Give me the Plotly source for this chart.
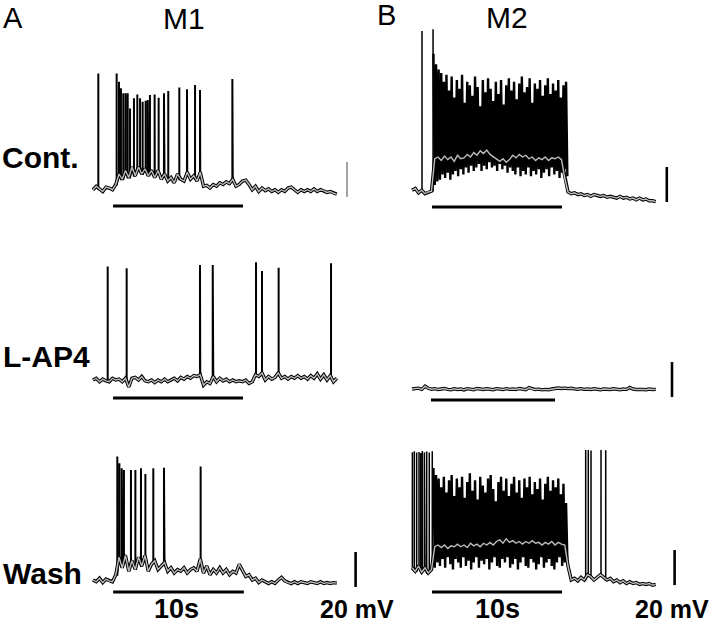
import numpy as np
import plotly.graph_objects as go

# ---------------- DATA (time in s, membrane potential in mV) ----------------
DT = 0.25          # sampling step of the filtered (grey) traces
DENSE_DT = 0.2     # step of the dense-firing envelope samples

# ---- M1, control
m1_cont_base = [-61, -59, -60.5, -62, -59.5, -60, -61,
                -58, -52, -55, -50, -54, -48, -53, -48, -52, -49, -53, -50, -54, -50, -55, -52, -56,
                -54, -57, -52, -55, -56, -51, -55, -53, -56, -51,
                -59, -58.5, -60, -58, -59, -57, -58, -56.5, -57.5, -55, -59, -58, -56, -55.5, -58,
                -61, -59, -62, -60, -61.5, -60.5, -62, -61, -62.5, -61, -62, -60, -59.5, -61, -62.5,
                -61, -62, -61, -62, -60.5, -62, -61, -61.5, -62.5, -62, -63, -63.5]
m1_cont_spike_t = [0.41, 1.82, 2.0, 2.15, 2.33, 2.51, 2.67, 2.85, 3.15, 3.41, 3.62, 3.82, 4.05,
                   4.21, 4.38, 4.74, 5.05, 5.46, 5.79, 6.64, 7.23, 7.85, 8.23, 10.72]
m1_cont_spike_mv = [5.5, 5.5, 0.7, -3.0, -5.9, -5.9, -5.9, -14.5, -8.7, -6.5, -8.7, -10.7, -10.1,
                    -9.7, -6.9, -6.5, -8.4, -5.9, -4.6, -2.5, -3.6, -1.1, -4.0, 2.3]

# ---- M1, L-AP4
m1_lap4_base = [-60, -59, -61, -59.5, -60.5, -61, -59, -60, -59.5, -61, -59, -64, -59, -58.5, -60,
                -58, -60.5, -61, -60, -61.5, -60, -61, -59.5, -61, -60, -59, -60.5, -58.5, -59.5,
                -58, -59, -57.5, -58, -57, -63, -61, -62, -58, -61, -59, -60.5, -59.5, -61, -60,
                -61, -60.5, -61, -60, -62, -61, -57, -58, -56, -60, -58, -59.5, -58.5, -56, -59,
                -58, -59.5, -58, -59, -57.5, -59, -58, -59.5, -57.5, -59, -56.5, -59.5, -57, -60,
                -57.5, -61, -59]
m1_lap4_spike_t = [1.13, 2.59, 8.23, 9.21, 12.54, 13.0, 14.28, 18.31]
m1_lap4_spike_mv = [4.8, 3.8, 5.7, 5.7, 7.3, 2.3, 4.2, 6.7]

# ---- M1, wash
m1_wash_base = [-60, -61, -59, -61.5, -59.5, -60.5, -61, -57, -47, -53, -46, -55, -49, -54, -47,
                -52, -46, -55, -51, -49, -54, -52, -50, -55, -53, -56, -54, -55, -53, -56, -54,
                -53, -55, -48, -56, -52, -57, -54, -56, -53, -56, -54, -57, -55, -56, -51, -55,
                -58, -57, -60, -59, -61.5, -60, -61, -62, -61, -62, -60, -58.5, -60.5, -61.5,
                -62, -61, -62, -61, -61.5, -62, -61, -61.5, -62, -61, -62, -61.5, -62, -61.5, -61.8]
m1_wash_spike_t = [1.87, 2.03, 2.21, 2.38, 2.92, 3.26, 3.69, 4.03, 4.64, 5.46, 8.28]
m1_wash_spike_mv = [10.5, 6.7, 3.8, 2.9, 2.9, 2.9, 3.8, 0.6, 3.8, 4.2, 4.8]

# ---- M2, control
m2_cont_base = [-59, -58, -60.5, -59, -61, -60, -59.5, -41, -40, -42, -39.5, -41.5, -40, -42.5,
                -39, -41, -40.5, -38.5, -40, -37.5, -39, -36.5, -38, -36, -38.5, -40, -41.5,
                -42.5, -41, -43, -41.5, -39, -40.5, -38.5, -40, -39, -41, -40, -42, -40.5, -41.5,
                -40, -42, -40.5, -41, -40, -41.5, -52, -60, -61, -60.5, -61.5, -61, -62, -61.5,
                -62.5, -61.5, -62, -62.5, -62, -63, -62.5, -63, -63.5, -62.5, -63.5, -63, -64,
                -63.5, -64.5, -63.5, -64.5, -64, -65, -65, -65.5]
m2_cont_spike_t = [0.77, 1.62]
m2_cont_spike_mv = [32, 33]
m2_cont_dense_start = 1.65
m2_cont_dense_peaks = [19, 13, 10, 8, 3, 7, -2, 6, -6, 4, -1, 7, -9, 3, 1, -5, 6, 0, -11, 4, -3,
                       5, -1, -8, 3, -4, 4, -10, 1, 5, -2, 3, -7, 2, 6, -3, 0, 5, -9, 2, -1, 4,
                       -5, 1, 5, -4, 2, -2, 4, -6, 1, 3]
m2_cont_dense_troughs = [-56, -54, -53, -50, -52, -49, -53, -50, -48, -51, -47, -50, -46, -49,
                         -45, -48, -46, -44, -48, -45, -47, -43, -46, -45, -48, -44, -47, -45,
                         -49, -46, -48, -50, -46, -51, -48, -50, -46, -51, -48, -50, -47, -52,
                         -49, -47, -51, -46, -50, -48, -52, -49, -47, -51]

# ---- M2, L-AP4
m2_lap4_base = [-60, -59.8, -59.5, -60.2, -58.4, -59.6, -60.1, -59.8, -60.3, -60, -59.7, -60.2,
                -60.4, -59.9, -60.3, -60, -60.5, -59.8, -60.2, -60.4, -59.7, -60.1, -60.3, -59.9,
                -60.2, -60.4, -59.8, -60.1, -60.3, -59.8, -60.2, -60, -60.3, -59.7, -60.1, -60.4,
                -59.2, -60, -60.3, -60.1, -60.5, -60.2, -60.4, -60, -59.6, -59.4, -59.7, -59.5,
                -59.8, -59.6, -59.9, -60.1, -59.8, -60.2, -60, -60.3, -59.9, -60.1, -60.4, -60,
                -60.2, -60.3, -59.9, -60.1, -60.4, -60, -60.2, -59.1, -60, -60.3, -60.1, -60.2,
                -60.4, -60, -60.3, -60.2]

# ---- M2, wash
m2_wash_base = [-53, -55, -52, -55.5, -53, -56, -54, -41, -40, -41.5, -40, -42, -40.5, -41,
                -39.5, -41, -40, -41.5, -39, -40.5, -39.5, -41, -39, -40, -38.5, -40, -38, -37,
                -39, -36.5, -38.5, -37.5, -39, -38, -39.5, -38, -39, -37.5, -39, -38.5, -40,
                -38.5, -39.5, -38, -40, -38.5, -39.5, -40, -52, -60, -59, -60.5, -58.5, -60,
                -57, -58, -60, -58.5, -57, -58.5, -60, -59, -61, -60, -61.5, -60.5, -62, -61,
                -62, -61.5, -62.5, -62, -62.5, -62, -63, -62.5]
m2_wash_spike_t = [0.03, 0.18, 0.36, 0.54, 0.67, 0.79, 0.95, 1.13, 1.33, 1.56,
                   13.36, 13.56, 13.77, 14.54, 14.9]
m2_wash_spike_mv = [13, 13.5, 12.8, 13.2, 12.6, 13.7, 13, 13.4, 12.9, 13.5,
                    14.3, 14.3, 14, 14.3, 14.1]
m2_wash_dense_start = 1.65
m2_wash_dense_peaks = [4, 0, -2, -7, -1, -10, -3, 0, -12, -2, -7, -1, -13, -4, 1, -9, -3, -14,
                       -1, -6, -10, -2, 0, -8, -15, -4, -1, -9, -2, -12, -5, -1, -10, -3, -13,
                       -2, -7, -1, -11, -4, -8, -2, -14, -5, -1, -9, -3, -7, -2, -11, -5, -16]
m2_wash_dense_troughs = [-53, -50, -52, -48, -53, -47, -51, -54, -48, -50, -53, -47, -52, -49,
                         -54, -50, -47, -53, -49, -51, -48, -54, -50, -47, -52, -53, -48, -50,
                         -47, -53, -51, -48, -54, -50, -47, -52, -53, -48, -50, -54, -51, -47,
                         -53, -50, -48, -52, -54, -50, -47, -52, -50, -48]

# stimulus bars (start s, end s) per panel
stim_windows = [(1.54, 11.54), (1.54, 11.54), (1.55, 11.6),
                (1.54, 11.54), (1.46, 11.0), (1.54, 11.54)]
SCALE_MV = 20

# ---------------- LAYOUT CONSTANTS (pixel calibration) ----------------
W, H = 720, 625
PX_PER_S = 13.0
PX_PER_MV = 1.75
REST = -60.0

panels = [
    dict(base=m1_cont_base, st=m1_cont_spike_t, sv=m1_cont_spike_mv, dense=None,
         x0=93, yb=188, bar_mv=-70.3, sb=(19.54, -65.1, "#666666", 1.2), sw=2.0),
    dict(base=m1_lap4_base, st=m1_lap4_spike_t, sv=m1_lap4_spike_mv, dense=None,
         x0=93, yb=380, bar_mv=-70.3, sb=None, sw=2.0),
    dict(base=m1_wash_base, st=m1_wash_spike_t, sv=m1_wash_spike_mv, dense=None,
         x0=93, yb=580, bar_mv=-66.9, sb=(20.2, -64.0, "black", 2.6), sw=2.0),
    dict(base=m2_cont_base, st=m2_cont_spike_t, sv=m2_cont_spike_mv,
         dense=(m2_cont_dense_start, m2_cont_dense_peaks, m2_cont_dense_troughs),
         x0=412, yb=192, bar_mv=-68.6, sb=(19.6, -65.7, "black", 2.6), sw=1.5),
    dict(base=m2_lap4_base, st=[], sv=[], dense=None,
         x0=412, yb=389, bar_mv=-66.3, sb=(20.0, -64.6, "black", 2.6), sw=1.5),
    dict(base=m2_wash_base, st=m2_wash_spike_t, sv=m2_wash_spike_mv,
         dense=(m2_wash_dense_start, m2_wash_dense_peaks, m2_wash_dense_troughs),
         x0=412, yb=580, bar_mv=-66.9, sb=(20.2, -62.9, "black", 2.6), sw=1.5),
]


def raw_trace(p):
    """Slow trace with spikes inserted; dense firing returned separately."""
    base = np.asarray(p["base"], float)
    t = np.arange(len(base)) * DT
    pts = []
    dense_x, dense_y = [], []
    d_start = d_end = None
    if p["dense"] is not None:
        d_start, peaks, troughs = p["dense"]
        d_end = d_start + DENSE_DT * (len(peaks) - 1) + DENSE_DT / 2
        for k, (pk, tr) in enumerate(zip(peaks, troughs)):
            tk = d_start + k * DENSE_DT
            dense_x += [tk, tk + DENSE_DT / 2]
            dense_y += [pk, tr]
    for ti, vi in zip(t, base):
        if d_start is not None and d_start <= ti <= d_end:
            continue
        pts.append((ti, vi))
    if d_start is not None:
        # break the line across the dense-firing stretch
        pts.append(((d_start + d_end) / 2, None))
    for ts, pv in zip(p["st"], p["sv"]):
        i = int(np.argmin(np.abs(t - ts)))
        b = base[i]
        pts += [(ts - 0.001, b), (ts, pv), (ts + 0.001, b)]
    pts.sort(key=lambda q: q[0])
    xs, ys = zip(*pts)
    return list(xs), list(ys), dense_x, dense_y, t, base


fig = go.Figure()
layout_axes = {}
for n, p in enumerate(panels, start=1):
    xs_name = "x" if n == 1 else f"x{n}"
    ys_name = "y" if n == 1 else f"y{n}"
    xr = [(0 - p["x0"]) / PX_PER_S, (W - p["x0"]) / PX_PER_S]
    yr = [REST - (H - p["yb"]) / PX_PER_MV, REST + p["yb"] / PX_PER_MV]
    layout_axes["xaxis" if n == 1 else f"xaxis{n}"] = dict(
        domain=[0, 1], range=xr, visible=False, anchor=ys_name, fixedrange=True)
    layout_axes["yaxis" if n == 1 else f"yaxis{n}"] = dict(
        domain=[0, 1], range=yr, visible=False, anchor=xs_name, fixedrange=True)

    rx, ry, dx, dy, t, base = raw_trace(p)
    common = dict(mode="lines", xaxis=xs_name, yaxis=ys_name, hoverinfo="skip",
                  showlegend=False)
    # black outline of the slow trace
    fig.add_trace(go.Scatter(x=t, y=base, line=dict(color="black", width=3.4), **common))
    # raw trace with spikes
    fig.add_trace(go.Scatter(x=rx, y=ry, connectgaps=False,
                             line=dict(color="black", width=p["sw"]), **common))
    # dense high-frequency firing
    if dx:
        fig.add_trace(go.Scatter(x=dx, y=dy, line=dict(color="black", width=2.4), **common))
    # grey filtered trace
    fig.add_trace(go.Scatter(x=t, y=base, line=dict(color="#bcbcbc", width=1.4), **common))
    s0, s1 = stim_windows[n - 1]
    fig.add_trace(go.Scatter(x=[s0, s1], y=[p["bar_mv"], p["bar_mv"]],
                             line=dict(color="black", width=3), **common))
    if p["sb"] is not None:
        tb, vb, col, wd = p["sb"]
        fig.add_trace(go.Scatter(x=[tb, tb], y=[vb, vb + SCALE_MV],
                                 line=dict(color=col, width=wd), **common))

FONT = "Liberation Sans, Arial, sans-serif"


def label(text, x, y, size, bold=False, xanchor="center"):
    return dict(text=f"<b>{text}</b>" if bold else text, x=x / W, y=1 - y / H,
                xref="paper", yref="paper", xanchor=xanchor, yanchor="middle",
                showarrow=False, font=dict(family=FONT, size=size, color="black"))


annotations = [
    label("A", 13, 18, 29),
    label("M1", 184, 18, 30),
    label("B", 386, 15, 29),
    label("M2", 507, 17, 30),
    label("Cont.", 0, 157, 30, True, "left"),
    label("L-AP4", 1, 356, 30, True, "left"),
    label("Wash", 1, 573, 30, True, "left"),
    label("10s", 176, 609, 27, True),
    label("20 mV", 318, 609, 25, True, "left"),
    label("10s", 497, 609, 27, True),
    label("20 mV", 633, 609, 25, True, "left"),
]

fig.update_layout(width=W, height=H, margin=dict(l=0, r=0, t=0, b=0),
                  paper_bgcolor="white", plot_bgcolor="rgba(0,0,0,0)",
                  annotations=annotations, **layout_axes)

fig.write_html("out.html", config={"displayModeBar": False, "staticPlot": True},
               post_script="document.body.style.margin='0px';")
